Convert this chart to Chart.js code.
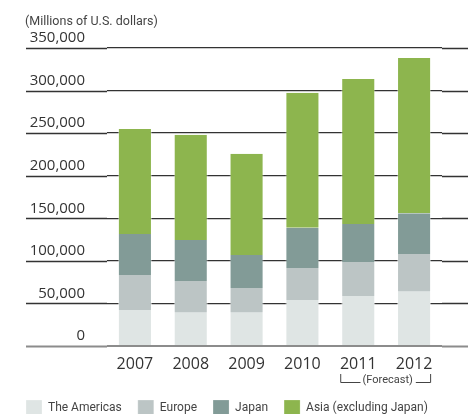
<!DOCTYPE html>
<html>
<head>
    <meta charset="UTF-8">
    <title>Semiconductor market by region</title>
    <script src="https://cdn.jsdelivr.net/npm/chart.js@4.4.1/dist/chart.umd.min.js"></script>
    <style>
      html, body { margin: 0; padding: 0; background: #fff; }
      .chart-container { position: relative; width: 468px; height: 414px; }
    </style>
</head>
<body>
    <div class="chart-container">
        <canvas id="myChart"></canvas>
    </div>

  <script>
      const years = ['2007', '2008', '2009', '2010', '2011', '2012'];
      const americas = [42300, 39100, 39100, 54000, 58700, 63800];
      const europe = [41100, 37200, 29000, 37600, 40000, 44300];
      const japan = [48100, 48200, 38800, 47400, 44600, 47700];
      const asia = [123400, 123700, 119000, 158500, 170300, 182500];
      const forecastYears = ['2011', '2012'];
      const unitText = '(Millions of U.S. dollars)';

      const ruleColor = v => v === 0 ? '#8c8c8c' : '#333';
      const ruleWidth = v => v === 0 ? 2 : 1.3;

      // grid lines carry on past the plot area on both sides
      const ruleEnds = {
          id: 'ruleEnds',
          afterDraw(chart) {
              const c = chart.ctx;
              const y = chart.scales.y;
              const area = chart.chartArea;
              c.save();
              y.ticks.forEach(t => {
                  const py = Math.round(y.getPixelForValue(t.value)) + 0.5;
                  c.strokeStyle = ruleColor(t.value);
                  c.lineWidth = ruleWidth(t.value);
                  c.beginPath();
                  c.moveTo(26, py);
                  c.lineTo(area.left, py);
                  c.moveTo(area.right, py);
                  c.lineTo(chart.width, py);
                  c.stroke();
              });
              c.restore();
          }
      };

      // unit caption above the axis, plus the bracket under the forecast years
      const notes = {
          id: 'notes',
          afterDraw(chart) {
              const c = chart.ctx;
              const x = chart.scales.x;
              c.save();
              c.fillStyle = '#444';
              c.font = '12.5px Roboto';
              c.textAlign = 'left';
              c.textBaseline = 'middle';
              c.fillText(unitText, 25, 22);

              const meta = chart.getDatasetMeta(0);
              const i0 = years.indexOf(forecastYears[0]);
              const i1 = years.indexOf(forecastYears[1]);
              const half = meta.data[i0].width / 2;
              const left = x.getPixelForValue(i0) - half - 1;
              const right = x.getPixelForValue(i1) + half;
              const top = 374, low = 382.5;
              c.font = '11px Roboto';
              c.textAlign = 'center';
              const label = '(Forecast)';
              const mid = (left + right) / 2 + 2;
              const w = c.measureText(label).width;
              c.fillText(label, mid, 380);
              c.strokeStyle = '#444';
              c.lineWidth = 1;
              c.beginPath();
              c.moveTo(left + 0.5, top);
              c.lineTo(left + 0.5, low);
              c.lineTo(mid - w / 2 - 2, low);
              c.moveTo(mid + w / 2 + 3, low);
              c.lineTo(right - 0.5, low);
              c.lineTo(right - 0.5, top);
              c.stroke();
              c.restore();
          }
      };

      const edge = { top: 0, bottom: 0, left: 1, right: 1 };

      const ctx = document.getElementById('myChart').getContext('2d');
      const myChart = new Chart(ctx, {
          type: 'bar',
          data: {
              labels: years,
              datasets: [{
                  label: 'The Americas',
                  data: americas,
                  backgroundColor: '#dfe5e4',
                  borderColor: 'rgba(255, 255, 255, 0.5)',
                  borderWidth: edge
              }, {
                  label: 'Europe',
                  data: europe,
                  backgroundColor: '#bcc5c5',
                  borderColor: 'rgba(255, 255, 255, 0.5)',
                  borderWidth: edge
              }, {
                  label: 'Japan',
                  data: japan,
                  backgroundColor: '#829b97',
                  borderColor: 'rgba(255, 255, 255, 0.4)',
                  borderWidth: edge
              }, {
                  label: 'Asia (excluding Japan)',
                  data: asia,
                  backgroundColor: '#8db54e',
                  borderColor: 'rgba(255, 255, 255, 0.4)',
                  borderWidth: edge
              }]
          },
          options: {
              responsive: true,
              maintainAspectRatio: false,
              animation: false,
              categoryPercentage: 1,
              barPercentage: 0.61,
              layout: {
                  padding: { left: 10, right: 0, top: 48, bottom: -11 }
              },
              plugins: {
                  title: { display: false },
                  legend: {
                      position: 'bottom',
                      align: 'start',
                      labels: {
                          boxWidth: 16,
                          boxHeight: 15,
                          padding: 16,
                          color: '#444',
                          font: { family: 'Roboto', size: 12 }
                      }
                  },
                  tooltip: { enabled: false }
              },
              scales: {
                  x: {
                      stacked: true,
                      grid: { display: false },
                      border: { display: false },
                      ticks: {
                          color: '#333',
                          padding: 1,
                          font: { family: 'Open Sans', size: 16 }
                      },
                      afterFit(scale) { scale.height = 38; }
                  },
                  y: {
                      stacked: true,
                      min: 0,
                      max: 350000,
                      grid: {
                          drawTicks: false,
                          color: c => ruleColor(c.tick.value),
                          lineWidth: c => ruleWidth(c.tick.value)
                      },
                      border: { display: false },
                      ticks: {
                          stepSize: 50000,
                          crossAlign: 'near',
                          padding: 22,
                          labelOffset: -10,
                          color: '#333',
                          font: { family: 'Open Sans', size: 15 },
                          callback: v => v.toLocaleString('en-US')
                      },
                      afterFit(scale) { scale.width = 97; }
                  },
                  // empty right-hand axis keeps the bars clear of the right edge
                  yRight: {
                      position: 'right',
                      min: 0,
                      max: 350000,
                      grid: { display: false },
                      border: { display: false },
                      ticks: { display: false },
                      afterFit(scale) { scale.width = 26; }
                  }
              }
          },
          plugins: [ruleEnds, notes]
      });
  </script>
</body>
</html>
